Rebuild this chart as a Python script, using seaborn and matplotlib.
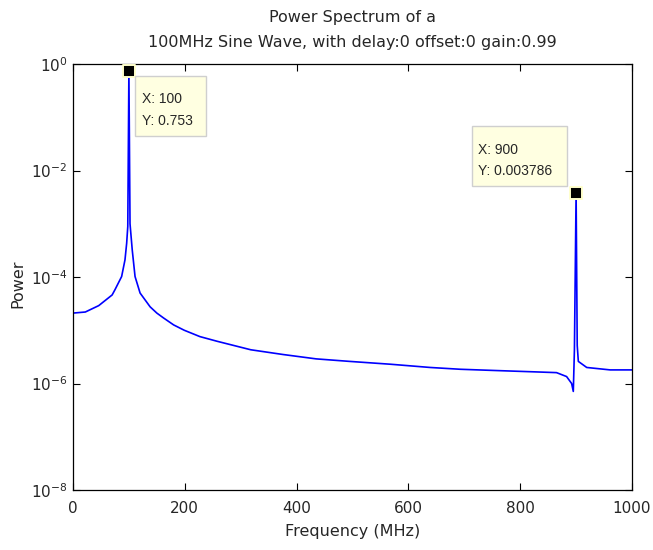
import matplotlib
matplotlib.use("Agg")
import matplotlib.pyplot as plt
import matplotlib.patches as mpatches
import matplotlib.transforms as mtransforms
import seaborn as sns
import pandas as pd

freq_mhz = [0, 22, 46, 70, 75, 87, 93, 96, 98, 100, 102, 106, 111, 120, 138,
            150, 162, 180, 199, 227, 258, 318, 376, 435, 495, 568, 639, 693, 758, 829,
            865, 883, 892, 895, 897, 900, 902, 904, 919, 961, 1000]
power = [2.1e-5, 2.2e-5, 2.9e-5, 4.6e-5, 5.75e-5, 1.02e-4, 2.1e-4, 4.3e-4, 8.9e-4,
         0.753, 1.0e-3, 3.2e-4, 1.02e-4, 5.0e-5, 2.75e-5,
         2.1e-5, 1.7e-5, 1.26e-5, 1.0e-5, 7.6e-6, 6.2e-6, 4.3e-6, 3.5e-6, 2.9e-6,
         2.6e-6, 2.3e-6, 2.0e-6, 1.85e-6, 1.75e-6, 1.65e-6,
         1.6e-6, 1.35e-6, 1.0e-6, 7.1e-7, 4.3e-6, 0.003786, 5.2e-6, 2.6e-6, 2.0e-6,
         1.8e-6, 1.8e-6]

tip_x = [100, 900]
tip_y = [0.753, 0.003786]
tip_line1 = ["X: 100", "X: 900"]
tip_line2 = ["Y: 0.753", "Y: 0.003786"]

title_lines = ["Power Spectrum of a",
               "100MHz Sine Wave, with delay:0 offset:0 gain:0.99"]
x_ticks = [0, 200, 400, 600, 800, 1000]
y_exponents = [-8, -6, -4, -2, 0]

sns.set_style("ticks")
plt.rcParams["font.family"] = ["DejaVu Sans"]
plt.rcParams["xtick.direction"] = "in"
plt.rcParams["ytick.direction"] = "in"

W, H = 653, 550
fig = plt.figure(figsize=(W / 100, H / 100), dpi=100)
ax_l, ax_r, ax_t, ax_b = 73, 632, 64, 490
ax = fig.add_axes([ax_l / W, 1 - ax_b / H, (ax_r - ax_l) / W, (ax_b - ax_t) / H])

df = pd.DataFrame({"Frequency (MHz)": freq_mhz, "Power": power})
sns.lineplot(data=df, x="Frequency (MHz)", y="Power", ax=ax, color="#0000ff",
             linewidth=1.2, estimator=None, sort=False)

ax.set_yscale("log")
ax.set_xlim(0, 1000)
ax.set_ylim(1e-8, 1)
ax.set_xticks(x_ticks)
ax.set_xticklabels([str(v) for v in x_ticks], fontsize=11)
ax.set_yticks([10.0 ** e for e in y_exponents])
ax.set_yticklabels([r"$\mathregular{10^{%d}}$" % e for e in y_exponents], fontsize=11)
ax.minorticks_off()
ax.tick_params(axis="both", which="major", length=5, width=0.8, color="black",
               top=True, right=True)
ax.tick_params(axis="x", pad=8)
ax.tick_params(axis="y", pad=4)
for s in ax.spines.values():
    s.set_color("black")
    s.set_linewidth(0.9)
ax.set_xlabel("Frequency (MHz)", fontsize=11.5, labelpad=6)
ax.set_ylabel("Power", fontsize=11.5, va="center")
ax.yaxis.set_label_coords((18 - ax_l) / (ax_r - ax_l), (ax_b - 284) / (ax_b - ax_t))

cx = (ax_l + ax_r) / 2 / W
fig.text(cx, 1 - 21.7 / H, title_lines[0], ha="center", va="baseline", fontsize=11.5)
fig.text(cx, 1 - 47.3 / H, title_lines[1], ha="center", va="baseline", fontsize=11.5)

ax.scatter(tip_x, tip_y, marker="s", s=80, color="black", edgecolor="#ffffcc",
           linewidth=1.4, zorder=5, clip_on=False)

# data-tip boxes: offsets in image pixels relative to the marker (y downward)
box_geom = [
    dict(left=6, right=77, top=5.5, bottom=65.5, tx=13.4, b1=32.5, b2=54),
    dict(left=-104.6, right=-9.3, top=-66.7, bottom=-6.7, tx=-98.3, b1=-38.7, b2=-18),
]
ident = mtransforms.IdentityTransform()
for xv, yv, l1, l2, g in zip(tip_x, tip_y, tip_line1, tip_line2, box_geom):
    px, py = ax.transData.transform((xv, yv))
    rect = mpatches.Rectangle((px + g["left"], py - g["bottom"]),
                              g["right"] - g["left"], g["bottom"] - g["top"],
                              transform=ident, facecolor="#ffffe1",
                              edgecolor="#cfcfcf", linewidth=1.0, zorder=6)
    fig.add_artist(rect)
    fig.text(px + g["tx"], py - g["b1"], l1, transform=ident, ha="left",
             va="baseline", fontsize=10, family="Liberation Sans", zorder=7)
    fig.text(px + g["tx"], py - g["b2"], l2, transform=ident, ha="left",
             va="baseline", fontsize=10, family="Liberation Sans", zorder=7)

fig.savefig("out.png", dpi=100, facecolor="white")
